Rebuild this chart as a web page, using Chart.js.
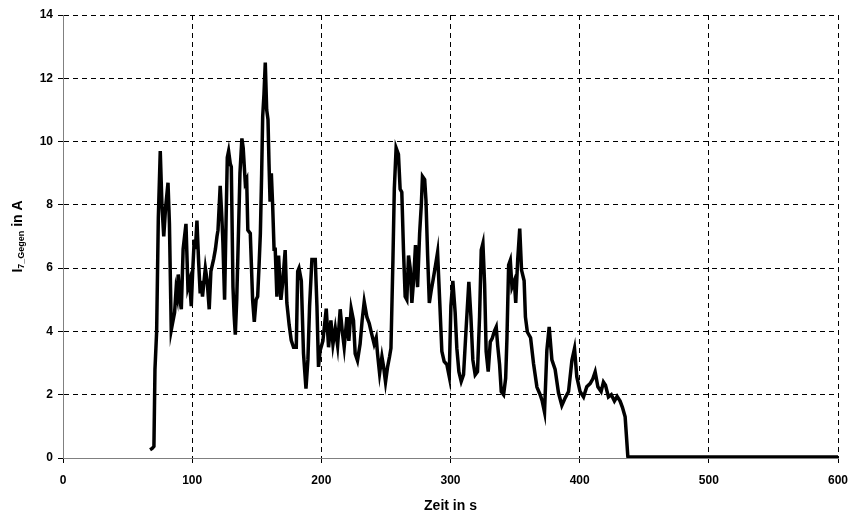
<!DOCTYPE html>
<html>
<head>
<meta charset="utf-8">
<script src="https://cdn.jsdelivr.net/npm/chart.js@4.4.1/dist/chart.umd.min.js"></script>
<style>
  html, body { margin: 0; padding: 0; background: #fff; }
  #wrap { width: 859px; height: 518px; }
</style>
</head>
<body>
<div id="wrap"><canvas id="myChart" width="859" height="518"></canvas></div>
<script>
// Zeit in s
const zeit = [
    67.4, 69, 70.4, 71.2, 72.5, 73.8, 75.3, 76.6, 78, 79.4, 81.3, 82.4, 83.8, 85, 86.4, 87.5, 88.4, 89.2,
    90.5, 91.6, 93, 95.2, 96.7, 98, 99.3, 100.3, 101.6, 102.5, 103.7, 105, 106.2, 107, 108, 109.2, 110.2,
    111.6, 113.2, 114.5, 116.7, 118, 119.2, 120, 121.7, 123, 123.8, 125.1, 126.2, 127.2, 128.2, 129.5,
    130.3, 131.6, 132.5, 133.4, 134.5, 135.9, 137, 138.5, 139.5, 141.1, 142.2, 143.1, 145, 146.8, 148.1,
    149.5, 150.7, 151.7, 152.8, 153.8, 154.6, 155.6, 156.6, 157.7, 158.7, 159.5, 160.3, 161.3, 162.3,
    163.4, 164.3, 165.6, 166.9, 168.7, 170, 172, 173.3, 175.1, 176.7, 178.5, 180.6, 181.7, 182.7, 184.5,
    186.2, 188.1, 189.6, 190.9, 192.7, 195.3, 196.6, 197.8, 199.1, 201.2, 203.8, 205.6, 207.4, 209,
    210.8, 212.6, 214.6, 216.2, 217.7, 219.8, 221.3, 223.1, 224.9, 226.2, 228, 230, 231.6, 233.2, 235.3,
    237.1, 239.1, 240.9, 242.5, 243.5, 245.1, 246.9, 248.2, 249.7, 251.3, 252.8, 253.9, 255.4, 256.5,
    257.9, 259.7, 261, 262.3, 263.6, 264.9, 266.2, 267.5, 268.8, 270.1, 271.4, 272.9, 274.5, 276.1,
    277.4, 278.3, 280, 281, 282.3, 283.6, 285.1, 286.4, 288.2, 290, 291.6, 293.3, 295.1, 297.2, 299,
    300.3, 301.8, 303.6, 304.9, 306.5, 308.3, 310.1, 312.1, 314.2, 315.8, 317.3, 319.1, 320.9, 322.5,
    323.8, 325.1, 326.4, 327.6, 329.2, 330.8, 332.3, 333.9, 335.4, 336.5, 338, 339.3, 341.1, 342.7,
    343.7, 345, 346.3, 347.6, 349.4, 350.5, 352, 353.6, 355, 357, 358, 359.5, 362, 364.3, 366.9, 369.4,
    371, 372.8, 374.6, 376.4, 378.5, 381, 383.6, 386.2, 388.8, 391.4, 394, 396, 397.8, 400.3, 403,
    405.5, 408.1, 410.2, 412, 414.1, 416.6, 418.4, 420, 422.3, 424.5, 426.9, 429, 431.3, 433.1, 435.2,
    437.3, 437.6, 600
];
// I_7_Gegen in A
const strom = [
    0.26, 0.3, 0.37, 2.8, 4.0, 7.6, 9.7, 8.0, 7.0, 7.9, 8.7, 7.4, 4.04, 4.3, 4.6, 5.3, 5.1, 5.8,
    5.0, 4.7, 6.6, 7.4, 5.4, 5.6, 4.8, 5.8, 6.9, 6.6, 7.5, 6.2, 5.2, 5.6, 5.1, 5.6, 6.0,
    5.6, 4.7, 5.9, 6.3, 6.6, 7.0, 7.2, 8.6, 7.6, 6.8, 5.0, 7.4, 9.5, 9.7, 9.3,
    9.2, 5.4, 4.5, 3.9, 5.0, 7.2, 9.0, 10.1, 9.8, 8.7, 8.8, 7.2, 7.1, 5.0, 4.3,
    5.0, 5.1, 6.0, 7.1, 9.0, 10.8, 11.5, 12.5, 11.0, 10.7, 9.3, 8.1, 9.0, 8.0,
    6.6, 6.6, 5.1, 6.4, 5.0, 5.5, 6.57, 4.9, 4.2, 3.72, 3.5, 3.5, 5.9, 6.0, 5.6,
    3.3, 2.19, 3.1, 4.8, 6.27, 6.27, 4.8, 2.88, 3.4, 3.7, 4.72, 3.5, 4.35, 3.6,
    4.1, 3.55, 4.7, 4.0, 3.5, 4.45, 3.7, 4.72, 4.35, 3.3, 3.08, 3.6, 4.35, 4.94, 4.45,
    4.25, 3.9, 3.6, 3.8, 3.3, 2.67, 3.2, 2.88, 2.4, 2.88, 3.2, 3.47, 6.2, 8.5,
    9.8, 9.6, 8.5, 8.4, 6.57, 5.1, 5.0, 6.4, 6.0, 4.9, 5.6, 6.73, 5.4, 7.1,
    8.0, 8.9, 8.8, 8.15, 6.4, 4.9, 5.3, 5.6, 6.04, 6.5, 5.0, 3.37, 3.05, 2.95, 2.58,
    4.8, 5.6, 4.6, 3.47, 2.73, 2.42, 2.63, 4.1, 5.57, 4.46, 3.1, 2.63, 2.73, 4.46,
    6.57, 6.78, 5.5, 3.37, 2.73, 3.67, 3.78, 4.0, 4.14, 3.57, 2.95, 2.1, 2.0, 2.52,
    3.78, 6.1, 6.25, 5.4, 5.6, 4.9, 6.25, 7.25, 5.94, 5.6, 4.46, 3.98, 3.8, 2.98, 2.24, 2.0,
    1.8, 1.45, 3.4, 4.14, 3.1, 2.8, 2.06, 1.66, 1.9, 2.1, 3.09, 3.46, 2.56, 2.1, 1.93,
    2.25, 2.35, 2.5, 2.72, 2.25, 2.1, 2.4, 2.3, 1.93, 2.0, 1.8, 1.95, 1.8, 1.6, 1.3,
    0.04, 0.03, 0.03
];
const xTicks = [0, 100, 200, 300, 400, 500, 600];
const yTicks = [0, 2, 4, 6, 8, 10, 12, 14];

const fontFam = '"Liberation Sans", Arial, sans-serif';
const points = zeit.map((t, i) => ({ x: t, y: strom[i] }));

// y-Achsentitel mit tiefgestelltem Index
const yTitlePlugin = {
    id: 'yTitle',
    afterDraw(chart) {
        const ctx = chart.ctx;
        const area = chart.chartArea;
        ctx.save();
        ctx.translate(18, (area.top + area.bottom) / 2);
        ctx.rotate(-Math.PI / 2);
        ctx.fillStyle = '#000';
        ctx.textBaseline = 'middle';
        const big = 'bold 14px ' + fontFam;
        const small = 'bold 9px ' + fontFam;
        ctx.font = big;
        const w1 = ctx.measureText('I').width;
        const w3 = ctx.measureText(' in A').width;
        ctx.font = small;
        const w2 = ctx.measureText('7_Gegen').width;
        let x = -(w1 + w2 + w3) / 2;
        ctx.textAlign = 'left';
        ctx.font = big;
        ctx.fillText('I', x, 0);
        x += w1;
        ctx.font = small;
        ctx.fillText('7_Gegen', x, 4);
        x += w2;
        ctx.font = big;
        ctx.fillText(' in A', x, 0);
        ctx.restore();
    }
};

new Chart(document.querySelector('#myChart').getContext('2d'), {
    type: 'line',
    data: {
        datasets: [{
            data: points,
            borderColor: '#000',
            borderWidth: 3.5,
            pointRadius: 0,
            tension: 0,
            fill: false
        }]
    },
    options: {
        responsive: false,
        animation: false,
        layout: { padding: { top: 15, right: 21, left: 0, bottom: 0 } },
        plugins: {
            legend: { display: false },
            tooltip: { enabled: false }
        },
        scales: {
            x: {
                type: 'linear',
                min: 0,
                max: 600,
                afterBuildTicks: (scale) => { scale.ticks = xTicks.map(v => ({ value: v })); },
                afterFit: (scale) => { scale.height = 60; },
                ticks: {
                    color: '#000',
                    font: { family: fontFam, size: 12, weight: 'bold' },
                    padding: 10,
                    maxRotation: 0
                },
                grid: { color: '#000', lineWidth: 1, tickLength: 5, tickColor: '#000' },
                border: { color: '#808080', width: 1, dash: [5, 4] },
                title: {
                    display: true,
                    text: 'Zeit in s',
                    color: '#000',
                    font: { family: fontFam, size: 14, weight: 'bold' },
                    padding: { top: 8, bottom: 3 }
                }
            },
            y: {
                min: 0,
                max: 14,
                afterBuildTicks: (scale) => { scale.ticks = yTicks.map(v => ({ value: v })); },
                afterFit: (scale) => { scale.width = 63; },
                ticks: {
                    color: '#000',
                    font: { family: fontFam, size: 12, weight: 'bold' },
                    padding: 5
                },
                grid: { color: '#000', lineWidth: 1, tickLength: 5, tickColor: '#000' },
                border: { color: '#808080', width: 1, dash: [5, 4] }
            }
        }
    },
    plugins: [yTitlePlugin]
});
</script>
</body>
</html>
